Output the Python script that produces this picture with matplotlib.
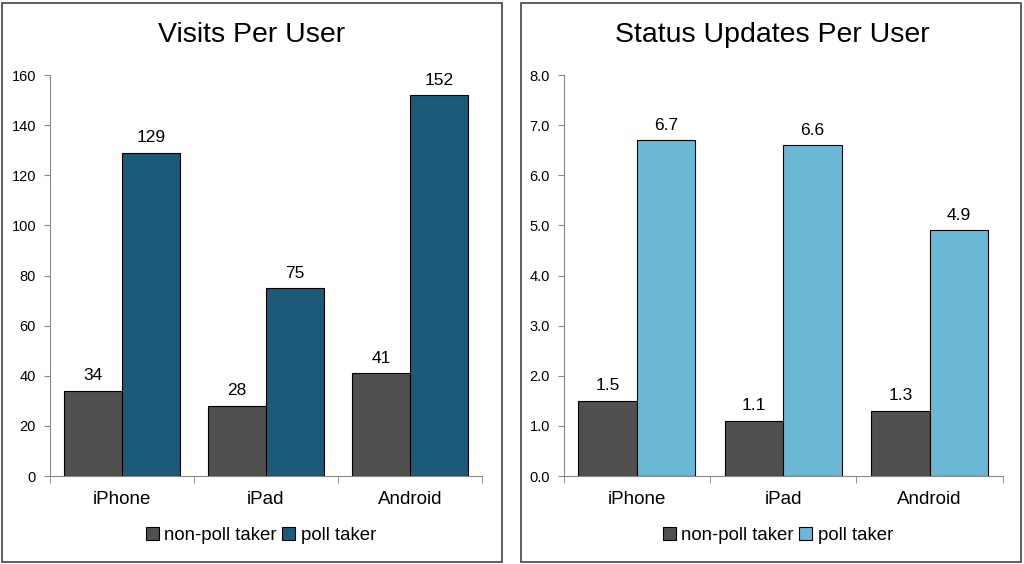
import numpy as np
import matplotlib
matplotlib.use('Agg')
import matplotlib.pyplot as plt
from matplotlib.patches import Rectangle

plt.rcParams['font.family'] = ['Liberation Sans', 'DejaVu Sans']

categories = ['iPhone', 'iPad', 'Android']
series = ['non-poll taker', 'poll taker']

visits_non = [34, 28, 41]
visits_poll = [129, 75, 152]
status_non = [1.5, 1.1, 1.3]
status_poll = [6.7, 6.6, 4.9]

grey = '#505050'
teal = '#1b5a78'
light = '#6bb8d6'

fig = plt.figure(figsize=(10.24, 5.64), dpi=100)

# panel frames
for x0, x1 in [(2, 502), (521, 1021)]:
    fig.patches.append(Rectangle((x0 / 1024, 2 / 564), (x1 - x0) / 1024, 559 / 564,
                                 transform=fig.transFigure, fill=False,
                                 edgecolor='#444444', lw=1.2))


def panel(rect, non, poll, color, title, tx, ymax, step, fmt, off):
    ax = fig.add_axes(rect)
    x = np.arange(len(categories))
    w = 0.4
    b1 = ax.bar(x - w / 2, non, w, color=grey, edgecolor='black', lw=0.8, label=series[0])
    b2 = ax.bar(x + w / 2, poll, w, color=color, edgecolor='black', lw=0.8, label=series[1])
    for bars, vals in [(b1, non), (b2, poll)]:
        for b, v in zip(bars, vals):
            ax.text(b.get_x() + b.get_width() / 2, v + off, fmt.format(v),
                    ha='center', va='bottom', fontsize=12.5)
    ax.set_xlim(-0.5, 2.5)
    ax.set_ylim(0, ymax)
    ax.set_yticks(np.arange(0, ymax + step / 2, step))
    ax.set_yticklabels([fmt.format(v) for v in np.arange(0, ymax + step / 2, step)])
    ax.set_xticks(x)
    ax.set_xticklabels(categories, fontsize=13.5)
    ax.set_xticks([-0.5, 0.5, 1.5, 2.5], minor=True)
    ax.tick_params(axis='x', which='major', length=0, pad=11)
    ax.tick_params(axis='x', which='minor', length=5, color='#888888')
    ax.tick_params(axis='y', length=4, color='#888888', labelsize=10.5, pad=6)
    for s in ['top', 'right']:
        ax.spines[s].set_visible(False)
    for s in ['left', 'bottom']:
        ax.spines[s].set_color('#888888')
    fig.text(tx / 1024, 1 - 35 / 564, title, fontsize=20.5, ha='center', va='center')
    ax.legend(loc='center', bbox_to_anchor=(0.488, -0.148), ncol=2, frameon=False,
              fontsize=13.4, handlelength=0.7, handleheight=0.7, handletextpad=0.3,
              columnspacing=0.3, borderaxespad=0)
    return ax


panel([0.0488, 0.156, 0.4219, 0.711], visits_non, visits_poll, teal,
      'Visits Per User', 252, 160, 20, '{:g}', 3)
panel([0.5505, 0.156, 0.4287, 0.711], status_non, status_poll, light,
      'Status Updates Per User', 772, 8.0, 1.0, '{:.1f}', 0.15)

fig.savefig('out.png', dpi=100)
